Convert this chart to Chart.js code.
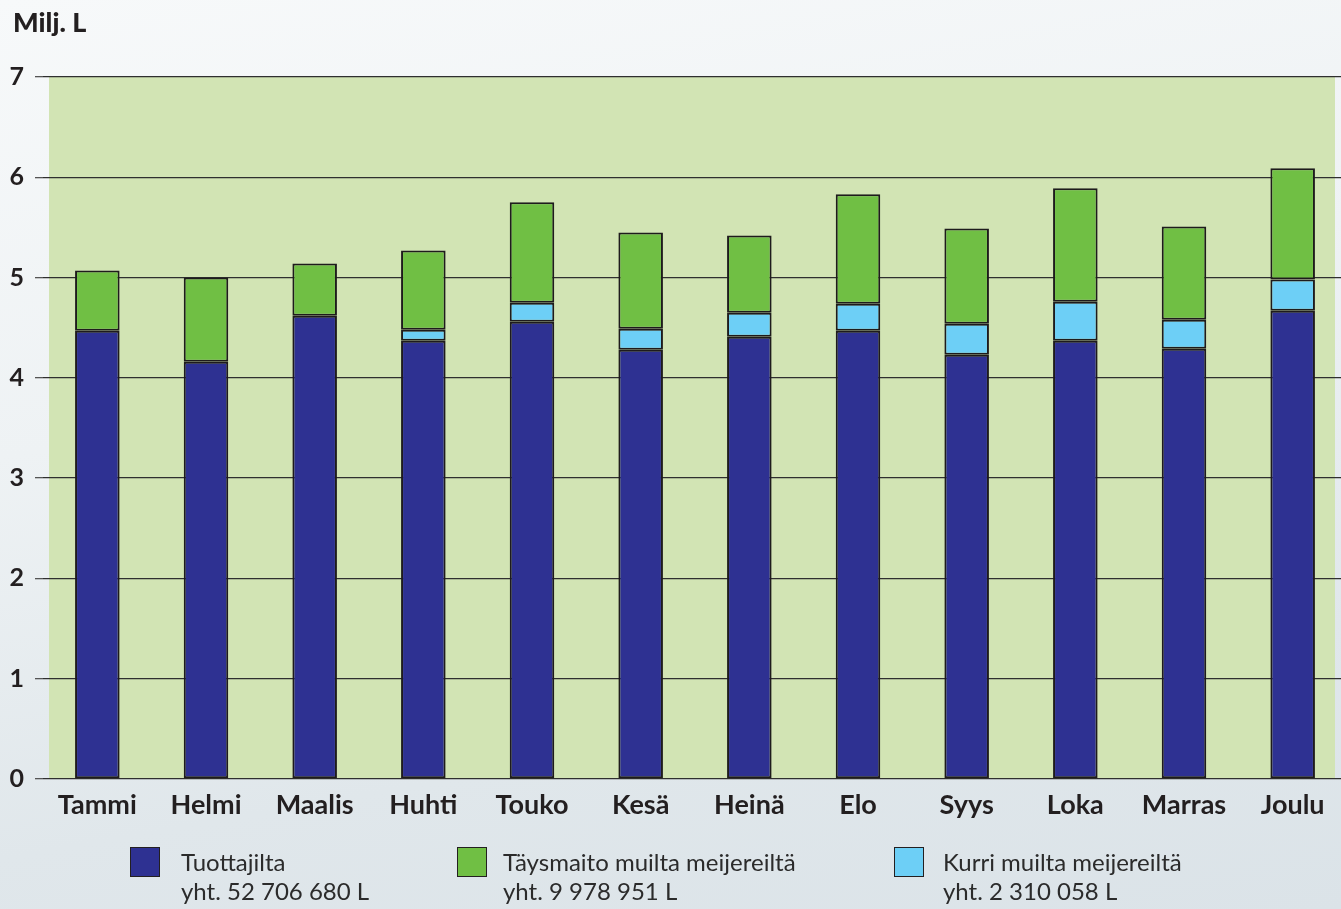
<!DOCTYPE html>
<html>
<head>
<meta charset="utf-8">
<script src="https://cdn.jsdelivr.net/npm/chart.js@4"></script>
<style>
html, body { margin: 0; padding: 0; overflow: hidden; }
body {
    width: 1341px; height: 909px; position: relative;
    background: linear-gradient(170deg, #f7f9fa 0%, #eef2f4 40%, #e0e7eb 75%, #dbe3e8 100%);
    font-family: Lato, sans-serif; color: #231f20;
}
#grafico { position: absolute; left: 0; top: 0; }
#unidad { position: absolute; left: 13px; top: 5px; font-weight: 900; font-size: 27px; }
.leyenda { position: absolute; top: 847px; font-size: 24px; line-height: 29px; color: #2b2b2b; }
.leyenda .caja { position: absolute; left: 0; top: 0; width: 28px; height: 28px; border: 1px solid #231f20; }
.leyenda .texto { position: absolute; top: 0px; white-space: nowrap; }
</style>
</head>
<body>
<canvas id="grafico" width="1347" height="909"></canvas>
<div id="unidad">Milj. L</div>
<div id="leyendas"></div>
<script>
var meses = ['Tammi', 'Helmi', 'Maalis', 'Huhti', 'Touko', 'Kesä', 'Heinä', 'Elo', 'Syys', 'Loka', 'Marras', 'Joulu'];
// millones de litros por mes
var tuottajilta = [4.47, 4.16, 4.62, 4.37, 4.56, 4.28, 4.41, 4.47, 4.23, 4.37, 4.29, 4.67];
var kurri = [0, 0, 0, 0.11, 0.19, 0.21, 0.24, 0.27, 0.31, 0.39, 0.29, 0.31];
var taysmaito = [0.60, 0.84, 0.52, 0.79, 1.00, 0.96, 0.77, 1.09, 0.95, 1.13, 0.93, 1.11];
var ticksY = [0, 1, 2, 3, 4, 5, 6, 7];

var colores = { tuottajilta: '#2e3192', taysmaito: '#70bf44', kurri: '#6dcff6' };

var leyendas = [
    { color: colores.tuottajilta, l1: 'Tuottajilta', l2: 'yht. 52 706 680 L', x: 130, tx: 51 },
    { color: colores.taysmaito, l1: 'Täysmaito muilta meijereiltä', l2: 'yht. 9 978 951 L', x: 457, tx: 46 },
    { color: colores.kurri, l1: 'Kurri muilta meijereiltä', l2: 'yht. 2 310 058 L', x: 894, tx: 49 }
];

document.addEventListener('DOMContentLoaded', f_principal);

function f_principal() {
    crearLeyenda();
    graficoBarras();
}

function crearLeyenda() {
    var cont = document.getElementById('leyendas');
    leyendas.forEach(function (l) {
        var d = document.createElement('div');
        d.className = 'leyenda';
        d.style.left = l.x + 'px';
        d.innerHTML = '<div class="caja" style="background:' + l.color + '"></div>' +
            '<div class="texto" style="left:' + l.tx + 'px">' + l.l1 + '<br>' + l.l2 + '</div>';
        cont.appendChild(d);
    });
}

// fondo verde del area del grafico
var fondoPlugin = {
    id: 'fondo',
    beforeDraw: function (chart) {
        var a = chart.chartArea;
        var y = chart.scales.y;
        var ctx = chart.ctx;
        ctx.save();
        ctx.fillStyle = '#d2e4b4';
        ctx.fillRect(a.left + 6, y.getPixelForValue(7), a.right - 12 - (a.left + 6), y.getPixelForValue(0) - y.getPixelForValue(7));
        ctx.restore();
    }
};

function graficoBarras() {
    var data = {
        labels: meses,
        datasets: [
            { label: 'Tuottajilta', data: tuottajilta, backgroundColor: colores.tuottajilta },
            { label: 'Kurri muilta meijereiltä', data: kurri, backgroundColor: colores.kurri },
            { label: 'Täysmaito muilta meijereiltä', data: taysmaito, backgroundColor: colores.taysmaito }
        ]
    };
    data.datasets.forEach(function (ds) {
        ds.borderColor = '#1e1b1c';
        ds.borderWidth = 2;
        ds.borderSkipped = false;
        ds.categoryPercentage = 1;
        ds.barPercentage = 0.41;
    });

    var options = {
        responsive: false,
        animation: false,
        layout: { padding: { top: 77, left: 0, right: 0, bottom: 0 } },
        plugins: { legend: { display: false }, tooltip: { enabled: false } },
        scales: {
            x: {
                stacked: true,
                grid: { display: false },
                border: { display: false },
                ticks: { color: '#231f20', font: { family: 'Lato', size: 27, weight: 'bold' }, padding: 2 },
                afterFit: function (s) { s.height = 130; }
            },
            y: {
                stacked: true,
                min: 0,
                max: 7,
                afterBuildTicks: function (s) { s.ticks = ticksY.map(function (v) { return { value: v }; }); },
                grid: { color: '#2f2f2f', lineWidth: 1.3, tickLength: 8, tickColor: '#555' },
                border: { display: false },
                ticks: { color: '#231f20', font: { family: 'Lato', size: 25, weight: 'bold' }, padding: 11 },
                afterFit: function (s) { s.width = 43; }
            }
        }
    };

    var ctx = document.getElementById('grafico').getContext('2d');
    var barras = new Chart(ctx, {
        type: 'bar',
        data: data,
        options: options,
        plugins: [fondoPlugin]
    });
}
</script>
</body>
</html>
